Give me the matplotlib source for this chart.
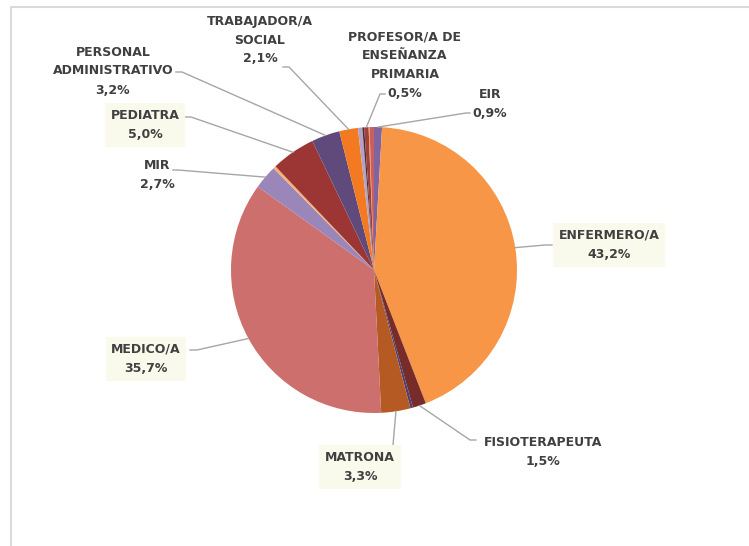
import matplotlib

matplotlib.use("Agg")
import matplotlib.pyplot as plt
import numpy as np

# Slices, clockwise from 12 o'clock (unlabelled ones have an empty name)
names = ["EIR", "ENFERMERO/A", "FISIOTERAPEUTA", "", "MATRONA", "MEDICO/A",
         "MIR", "", "PEDIATRA", "PERSONAL\nADMINISTRATIVO", "TRABAJADOR/A\nSOCIAL",
         "", "", "PROFESOR/A DE\nENSEÑANZA\nPRIMARIA", "", ""]
values = [0.9, 43.2, 1.5, 0.3, 3.3, 35.7,
          2.7, 0.3, 5.0, 3.2, 2.1,
          0.5, 0.2, 0.5, 0.1, 0.5]
colors = ["#8064A2", "#F79646", "#772C2A", "#4F3F72", "#B65A24", "#CC6F6D",
          "#9B86BA", "#FAB070", "#9B3634", "#604A7B", "#F47A22",
          "#B3A2C7", "#4A2A2A", "#A0403E", "#F79646", "#C9605E"]
boxed = ["ENFERMERO/A", "MEDICO/A", "MATRONA", "PEDIATRA"]

H = 546
# label centre, line start and elbow, in pixels of the reference (y downwards)
layout = {
    "EIR": ((490, 104), (470, 113), (466, 113)),
    "ENFERMERO/A": ((609, 245), (552, 245), (545, 245)),
    "FISIOTERAPEUTA": ((543, 452), (476, 440), (470, 440)),
    "MATRONA": ((360, 467), (393, 445), (393, 445)),
    "MEDICO/A": ((146, 359), (190, 350), (197, 350)),
    "MIR": ((157, 175), (173, 170), (178, 170)),
    "PEDIATRA": ((145, 125), (185, 117), (191, 117)),
    "PERSONAL\nADMINISTRATIVO": ((113, 71), (176, 72), (182, 72)),
    "TRABAJADOR/A\nSOCIAL": ((260, 40), (283, 67), (289, 67)),
    "PROFESOR/A DE\nENSEÑANZA\nPRIMARIA": ((405, 65), (385, 94), (380, 94)),
}

cx, cy, r = 374, H - 270, 143

fig = plt.figure(figsize=(7.49, 5.46), dpi=100)
ax = fig.add_axes([0, 0, 1, 1])

# chart frame (cut by the screenshot)
ax.plot([10.5, 10.5, 749], [0, H - 7, H - 7], color="#DADADA", lw=1.5, zorder=0)

wedges, _ = ax.pie(values, colors=colors, startangle=90, counterclock=False,
                   center=(cx, cy), radius=r, frame=True,
                   wedgeprops=dict(linewidth=0))
ax.set_xlim(0, 749)
ax.set_ylim(0, H)
ax.set_aspect("equal")
ax.axis("off")

font = dict(family="DejaVu Sans", fontweight="bold", fontsize=9,
            color="#404040", ha="center", va="center", linespacing=1.6)

for w, name, val in zip(wedges, names, values):
    if not name:
        continue
    (tx, ty), (sx, sy), (ex, ey) = layout[name]
    mid = np.deg2rad((w.theta1 + w.theta2) / 2)
    px, py = cx + r * np.cos(mid), cy + r * np.sin(mid)
    ax.plot([sx, ex, px], [H - sy, H - ey, py], color="#A6A6A6", lw=1, zorder=3)
    txt = f"{name}\n{val:.1f}%".replace(".", ",")
    bbox = None
    if name in boxed:
        bbox = dict(boxstyle="square,pad=0.45", fc="#F9F9EC", ec="none")
    ax.text(tx, H - ty, txt, bbox=bbox, zorder=4, **font)

fig.savefig("out.png", dpi=100)
